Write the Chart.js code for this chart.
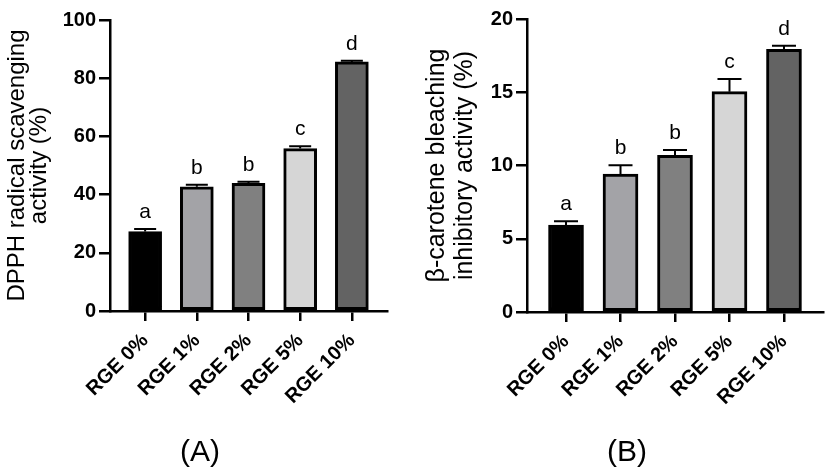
<!DOCTYPE html>
<html>
<head>
<meta charset="utf-8">
<script src="https://cdn.jsdelivr.net/npm/chart.js@4.4.1/dist/chart.umd.min.js"></script>
<style>
  html, body { margin: 0; padding: 0; background: #fff; }
  #wrap { position: relative; width: 827px; height: 471px; overflow: hidden; }
  #chartA { position: absolute; left: 0; top: 0; }
  #chartB { position: absolute; left: 410px; top: 0; }
</style>
</head>
<body>
<div id="wrap">
  <canvas id="chartA" width="410" height="471"></canvas>
  <canvas id="chartB" width="417" height="471"></canvas>
</div>
<script>
// --- DATA ---
const catLabels = ['RGE 0%', 'RGE 1%', 'RGE 2%', 'RGE 5%', 'RGE 10%'];
const barColors = ['#000000', '#a3a3a7', '#808080', '#d6d6d6', '#636363'];

// (A) DPPH radical scavenging activity (%)
const dpphMeans = [27.3, 42.7, 43.9, 55.8, 85.6];
const dpphErrors = [0.9, 0.7, 0.5, 0.8, 0.4];
const dpphLetters = ['a', 'b', 'b', 'c', 'd'];
const dpphTicks = [0, 20, 40, 60, 80, 100];

// (B) beta-carotene bleaching inhibitory activity (%)
const caroteneMeans = [5.94, 9.42, 10.7, 15.04, 17.93];
const caroteneErrors = [0.26, 0.6, 0.35, 0.86, 0.25];
const caroteneLetters = ['a', 'b', 'b', 'c', 'd'];
const caroteneTicks = [0, 5, 10, 15, 20];

const FONT = "'Liberation Sans', Arial, sans-serif";

// error bars (upper only), significance letters and panel label
function makeMarks(means, errors, letters, panel, capHalf, panelX) {
    return {
        id: 'marks',
        afterDatasetsDraw(chart) {
            const ctx = chart.ctx;
            const xs = chart.scales.x, ys = chart.scales.y;
            ctx.save();
            ctx.strokeStyle = '#000';
            ctx.lineWidth = 2;
            ctx.fillStyle = '#000';
            ctx.font = '21px ' + FONT;
            ctx.textAlign = 'center';
            ctx.textBaseline = 'alphabetic';
            means.forEach((m, i) => {
                const px = xs.getPixelForValue(i);
                const top = ys.getPixelForValue(m);
                const hi = ys.getPixelForValue(m + errors[i]);
                ctx.beginPath();
                ctx.moveTo(px, top);
                ctx.lineTo(px, hi);
                ctx.moveTo(px - capHalf, hi);
                ctx.lineTo(px + capHalf, hi);
                ctx.stroke();
                ctx.fillText(letters[i], px, hi - 11);
            });
            ctx.font = '30px ' + FONT;
            ctx.fillText(panel, panelX, 461);
            ctx.restore();
        }
    };
}

function makeChart(id, cfg) {
    return new Chart(document.getElementById(id), {
        type: 'bar',
        data: {
            datasets: [{
                data: cfg.means.map((v, i) => ({ x: i, y: v })),
                backgroundColor: barColors,
                borderColor: '#000',
                borderWidth: 3,
                borderSkipped: false,
                barThickness: cfg.barWidth
            }]
        },
        options: {
            responsive: false,
            animation: false,
            devicePixelRatio: 1,
            layout: { padding: { left: 0, right: cfg.padRight, top: cfg.top, bottom: 0 } },
            plugins: { legend: { display: false }, tooltip: { enabled: false } },
            scales: {
                x: {
                    type: 'linear',
                    offset: false,
                    min: -cfg.edge,
                    max: catLabels.length - 1 + cfg.edge,
                    afterBuildTicks: s => { s.ticks = catLabels.map((_, i) => ({ value: i })); },
                    afterFit: s => { s.height = cfg.xHeight; s.paddingRight = 0; },
                    ticks: {
                        autoSkip: false,
                        minRotation: 45,
                        maxRotation: 45,
                        padding: 8,
                        color: '#000',
                        font: { family: FONT, size: 20, weight: 'bold' },
                        callback: v => catLabels[v]
                    },
                    grid: { offset: false, drawOnChartArea: false, color: '#000', lineWidth: 2.5, tickLength: 10 },
                    border: { color: '#000', width: 2.5 }
                },
                y: {
                    min: cfg.yTicks[0],
                    max: cfg.yTicks[cfg.yTicks.length - 1],
                    afterBuildTicks: s => { s.ticks = cfg.yTicks.map(v => ({ value: v })); },
                    afterFit: s => { s.width = cfg.yWidth; },
                    ticks: {
                        padding: 3,
                        color: '#000',
                        font: { family: FONT, size: 20, weight: 'bold' }
                    },
                    grid: { drawOnChartArea: false, color: '#000', lineWidth: 2.5, tickLength: 11 },
                    border: { color: '#000', width: 2.5 },
                    title: {
                        display: true,
                        text: cfg.title,
                        color: '#000',
                        padding: { top: cfg.titlePad, bottom: 0 },
                        font: { family: FONT, size: cfg.titleSize, lineHeight: cfg.titleLine }
                    }
                }
            }
        },
        plugins: [makeMarks(cfg.means, cfg.errors, cfg.letters, cfg.panel, cfg.capHalf, cfg.panelX)]
    });
}

makeChart('chartA', {
    means: dpphMeans, errors: dpphErrors, letters: dpphLetters, yTicks: dpphTicks,
    title: ['DPPH radical scavenging', 'activity (%)'], titleSize: 24, titleLine: 0.94, titlePad: 6,
    panel: '(A)', panelX: 200,
    barWidth: 33, capHalf: 11, edge: 0.68,
    yWidth: 110, xHeight: 160, padRight: 23, top: 20
});

makeChart('chartB', {
    means: caroteneMeans, errors: caroteneErrors, letters: caroteneLetters, yTicks: caroteneTicks,
    title: ['β-carotene bleaching', 'inhibitory activity (%)'], titleSize: 25, titleLine: 1.12, titlePad: 13,
    panel: '(B)', panelX: 217,
    barWidth: 35, capHalf: 12, edge: 0.716,
    yWidth: 117, xHeight: 159, padRight: 4, top: 19
});
</script>
</body>
</html>
